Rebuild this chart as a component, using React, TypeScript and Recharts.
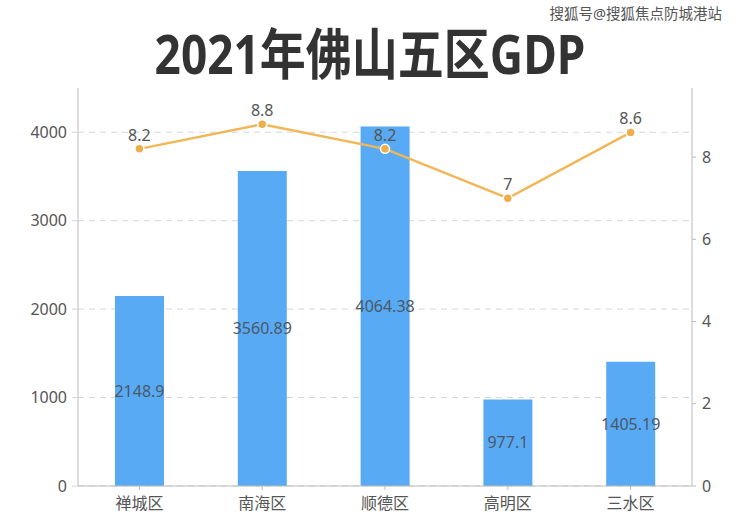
import React from 'react';
import {
  ComposedChart, Bar, Line, XAxis, YAxis, CartesianGrid, LabelList,
} from 'recharts';

const districts = ['禅城区', '南海区', '顺德区', '高明区', '三水区'];
const gdp = [2148.9, 3560.89, 4064.38, 977.1, 1405.19];
const growth = [8.2, 8.8, 8.2, 7, 8.6];
const leftTicks = [0, 1000, 2000, 3000, 4000];
const rightTicks = [0, 2, 4, 6, 8];

const data = districts.map((name, i) => ({ name, gdp: gdp[i], growth: growth[i] }));

const font = '"Noto Sans", "Noto Sans CJK SC", sans-serif';
const tickStyle = { fill: '#555', fontSize: 16, fontFamily: font };

const App: React.FC = () => {
  return (
    <div style={{ position: 'absolute', left: 0, top: 0, width: 740, height: 518, background: '#fff', fontFamily: font }}>
      {/* title */}
      <div style={{
        position: 'absolute', left: 0, top: 30, width: 740, textAlign: 'center',
        fontSize: 46, fontWeight: 700, color: '#333', lineHeight: '46px',
        transform: 'scaleY(1.18)', transformOrigin: '50% 50%',
      }}>
        2021年佛山五区GDP
      </div>
      {/* watermark */}
      <div style={{
        position: 'absolute', right: 18, top: 3, fontSize: 14.5, lineHeight: '20px', color: '#555',
        textShadow: '0 0 2px #fff',
      }}>
        搜狐号@搜狐焦点防城港站
      </div>
      <ComposedChart
        width={740}
        height={518}
        data={data}
        margin={{ top: 88, right: 0, bottom: 0, left: 0 }}
        style={{ position: 'absolute', left: 0, top: 0 }}
      >
        <CartesianGrid
          yAxisId="left"
          vertical={false}
          horizontalValues={leftTicks}
          stroke="#d6d6d6"
          strokeDasharray="6 5"
        />
        <XAxis
          dataKey="name"
          height={32}
          tick={tickStyle}
          axisLine={{ stroke: '#bbb' }}
          tickLine={{ stroke: '#bbb' }}
          tickSize={4}
          tickMargin={8}
        />
        <YAxis
          yAxisId="left"
          width={78}
          domain={[0, 4500]}
          ticks={leftTicks}
          tick={tickStyle}
          axisLine={{ stroke: '#bbb' }}
          tickLine={{ stroke: '#d6d6d6' }}
          tickSize={6}
          tickMargin={5}
        />
        <YAxis
          yAxisId="right"
          orientation="right"
          width={48}
          domain={[0, 9.68]}
          ticks={rightTicks}
          tick={tickStyle}
          axisLine={{ stroke: '#bbb' }}
          tickLine={{ stroke: '#bbb' }}
          tickSize={4}
          tickMargin={6}
        />
        <Bar yAxisId="left" dataKey="gdp" fill="#58aaf4" barSize={49} isAnimationActive={false}>
          <LabelList dataKey="gdp" position="center" fill="#4a5868" fontSize={16} fontFamily={font} />
        </Bar>
        <Line
          yAxisId="right"
          dataKey="growth"
          type="linear"
          stroke="#f1b656"
          strokeWidth={2.5}
          dot={{ r: 4.5, fill: '#eeae4c', stroke: '#fff', strokeWidth: 1.5 }}
          isAnimationActive={false}
        >
          <LabelList dataKey="growth" position="top" offset={8} fill="#555" fontSize={16} fontFamily={font} />
        </Line>
      </ComposedChart>
    </div>
  );
};

export default App;
